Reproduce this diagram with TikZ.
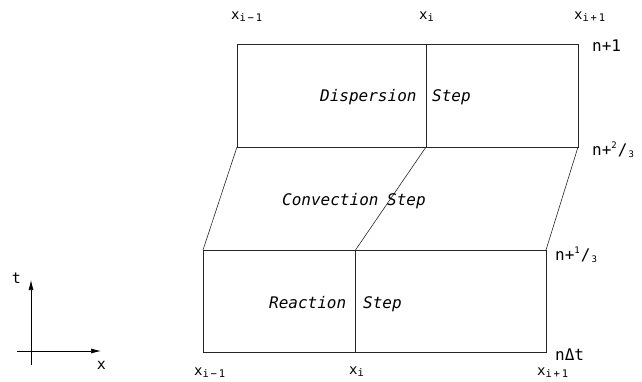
\documentclass[tikz,border=0pt]{standalone}
\usepackage{fontspec}
\setmainfont{DejaVu Sans Mono}
\usetikzlibrary{arrows.meta}
\newcommand\xlab[1]{x\raisebox{-0.35ex}{\fontsize{10.5}{10.5}\selectfont #1}}
\newcommand\smallnum[1]{{\fontsize{9}{9}\selectfont #1}}
\begin{document}
\begin{tikzpicture}[x=1pt,y=-1pt,
  grid/.style={line width=0.6pt,black!85},
  steptext/.style={font=\fontsize{16}{16}\selectfont\itshape,inner sep=0pt,anchor=base west},
  lvl/.style={font=\fontsize{16}{16}\selectfont,inner sep=0pt,anchor=base west},
  xl/.style={font=\fontsize{14}{14}\selectfont,inner sep=0pt,anchor=base west},
  ax/.style={line width=0.7pt,-{Latex[length=10pt,width=5pt]}}]
\useasboundingbox (0,0) rectangle (642,381);
% grid points
\coordinate (A1) at (237,44);  \coordinate (A2) at (426,44);  \coordinate (A3) at (578,44);
\coordinate (B1) at (237,147); \coordinate (B2) at (426,147); \coordinate (B3) at (578,147);
\coordinate (C1) at (203,250); \coordinate (C2) at (355.5,250); \coordinate (C3) at (546,250);
\coordinate (D1) at (203,352); \coordinate (D2) at (355.5,352); \coordinate (D3) at (546,352);
% dispersion block
\draw[grid] (A1) -- (A3) -- (B3) -- (B1) -- cycle;
\draw[grid] (A2) -- (B2);
% convection block
\draw[grid] (B1) -- (C1);
\draw[grid] (B2) -- (C2);
\draw[grid] (B3) -- (C3);
% reaction block
\draw[grid] (C1) -- (C3) -- (D3) -- (D1) -- cycle;
\draw[grid] (C2) -- (D2);
% step texts
\node[steptext] (disp) at (320,101) {Dispersion};
\node[steptext] (dstep) at (432,101) {Step};
\node[steptext] (conv) at (282,205) {Convection};
\node[steptext] (cstep) at (387,205) {Step};
\node[steptext] (reac) at (269,308) {Reaction};
\node[steptext] (rstep) at (363,308) {Step};
% time levels
\node[lvl] (l1) at (592,51) {n+1};
\node[lvl] (l23) at (592,155) {n+\raisebox{0.7ex}{\smallnum{2}}\kern1pt/\kern1pt\raisebox{-0.3ex}{\smallnum{3}}};
\node[lvl] (l13) at (555,260) {n+\raisebox{0.7ex}{\smallnum{1}}\kern1pt/\kern1pt\raisebox{-0.3ex}{\smallnum{3}}};
\node[lvl] (l0) at (555,360) {nΔt};
% x labels top
\node[xl] (xt1) at (231,19) {\xlab{i\,−\,1}};
\node[xl] (xt2) at (419,19) {\xlab{i}};
\node[xl] (xt3) at (574,19) {\xlab{i\,+\,1}};
% x labels bottom
\node[xl] (xb1) at (194,375) {\xlab{i\,−\,1}};
\node[xl] (xb2) at (349,374) {\xlab{i}};
\node[xl] (xb3) at (537,375) {\xlab{i\,+\,1}};
% axes
\coordinate (V0) at (31,365); \coordinate (Vt) at (31,280);
\coordinate (H0) at (17,351); \coordinate (Hx) at (101,351);
\draw[ax] (V0) -- (Vt);
\draw[ax] (H0) -- (Hx);
\node[font=\fontsize{15}{15}\selectfont,inner sep=0pt] (tl) at (16.5,278) {t};
\node[font=\fontsize{15}{15}\selectfont,inner sep=0pt] (xlab) at (101.5,365) {x};
\end{tikzpicture}
\end{document}
